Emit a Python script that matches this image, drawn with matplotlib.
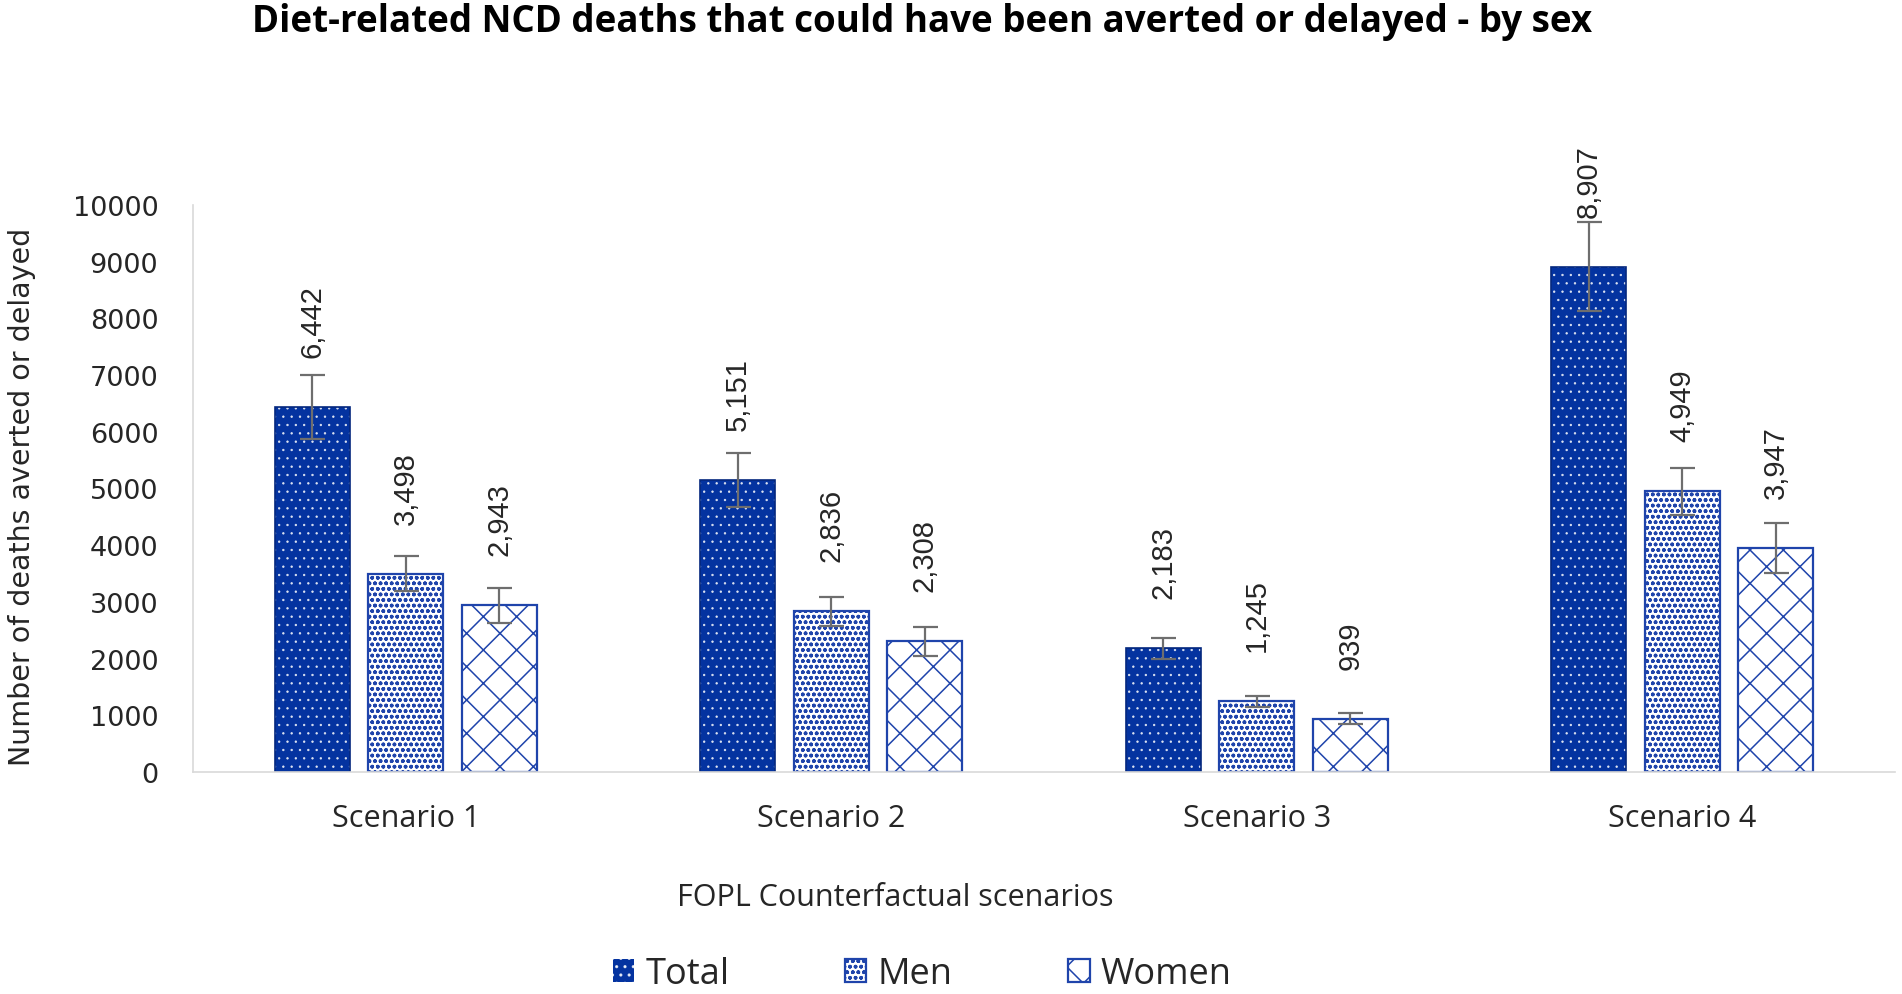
import matplotlib
matplotlib.use('Agg')
import matplotlib.pyplot as plt
import matplotlib.patches as mpatches
import numpy as np

# ---- data ----
scenarios = ['Scenario 1', 'Scenario 2', 'Scenario 3', 'Scenario 4']
series_names = ['Total', 'Men', 'Women']
total = [6442, 5151, 2183, 8907]
men = [3498, 2836, 1245, 4949]
women = [2943, 2308, 939, 3947]
total_err = [565, 470, 185, 785]
men_err = [310, 255, 90, 420]
women_err = [310, 255, 95, 440]
yticks = list(range(0, 10001, 1000))

title = 'Diet-related NCD deaths that could have been averted or delayed - by sex'
ylabel = 'Number of deaths averted or delayed'
xlabel = 'FOPL Counterfactual scenarios'

# ---- style ----
W, H = 1902, 995
DARK = '#0433A0'
DARK_EDGE = '#04287E'
DOT = (1, 1, 1, 0.8)
PAT = '#1F44AB'
ERR = '#6E6E6E'
TXT = '#262626'
SPINE = '#D9D9D9'
plt.rcParams['hatch.linewidth'] = 1.1

fig = plt.figure(figsize=(W / 100, H / 100), dpi=100)
ax = fig.add_axes([193 / W, (H - 773) / H, (1895 - 193) / W, (773 - 206) / H])

x = np.arange(len(scenarios))
bw = 0.176
pitch = 0.22

# Total: dark fill with small white dots
with plt.rc_context({'hatch.linewidth': 0.5}):
    ax.bar(x - pitch, total, bw, color=DARK, edgecolor=DOT, hatch='..', linewidth=0)
    h_total = mpatches.Patch(facecolor=DARK, edgecolor=DOT, hatch='..', linewidth=0)
ax.bar(x - pitch, total, bw, facecolor='none', edgecolor=DARK_EDGE, linewidth=1.2)
# Men: white with dense blue dots
ax.bar(x, men, bw, facecolor='white', edgecolor=PAT, hatch='ooo', linewidth=1.6)
# Women: white with blue cross hatch
ax.bar(x + pitch, women, bw, facecolor='white', edgecolor=PAT, hatch='x', linewidth=1.6)

ek = dict(fmt='none', ecolor=ERR, elinewidth=1.6, capsize=9, capthick=1.6, zorder=5)
ax.errorbar(x - pitch, total, yerr=total_err, **ek)
ax.errorbar(x, men, yerr=men_err, **ek)
ax.errorbar(x + pitch, women, yerr=women_err, **ek)

for xs, vals in ((x - pitch, total), (x, men), (x + pitch, women)):
    for xi, v in zip(xs, vals):
        ax.annotate(f'{v:,}', (xi, v), xytext=(0, 36), textcoords='offset points',
                    rotation=90, ha='center', va='bottom', fontsize=21,
                    family='Liberation Sans', color=TXT)

ax.set_xlim(-0.5, len(scenarios) - 0.5)
ax.set_ylim(0, 10000)
ax.set_yticks(yticks)
ax.set_yticklabels([str(t) for t in yticks], fontsize=19.5, family='DejaVu Sans', color=TXT)
ax.set_xticks(x)
ax.set_xticklabels(scenarios, fontsize=22, family='Open Sans', color=TXT)
ax.tick_params(axis='y', length=0, pad=25)
ax.tick_params(axis='x', length=0, pad=22)

for s in ('top', 'right'):
    ax.spines[s].set_visible(False)
for s in ('left', 'bottom'):
    ax.spines[s].set_color(SPINE)
    ax.spines[s].set_linewidth(1.2)

fig.text(922 / W, 1 - 22 / H, title, ha='center', va='center', fontsize=26.5,
         fontweight='bold', family='Open Sans', color='black')
fig.text(22 / W, 1 - 497 / H, ylabel, ha='center', va='center', rotation=90,
         fontsize=20.5, family='DejaVu Sans', color=TXT)
fig.text(895 / W, 1 - 898 / H, xlabel, ha='center', va='center', fontsize=22,
         family='Open Sans', color=TXT)

handles = [
    h_total,
    mpatches.Patch(facecolor='white', edgecolor=PAT, hatch='ooo', linewidth=1.6),
    mpatches.Patch(facecolor='white', edgecolor=PAT, hatch='x', linewidth=1.6),
]
fig.legend(handles, series_names, loc='center', bbox_to_anchor=(922 / W, 0.02),
           ncol=3, frameon=False, prop={'family': 'Open Sans', 'size': 26},
           handlelength=0.6, handleheight=0.6, handletextpad=0.3,
           columnspacing=3.2, borderpad=0, borderaxespad=0, labelcolor=TXT)

fig.savefig('out.png', dpi=100)
